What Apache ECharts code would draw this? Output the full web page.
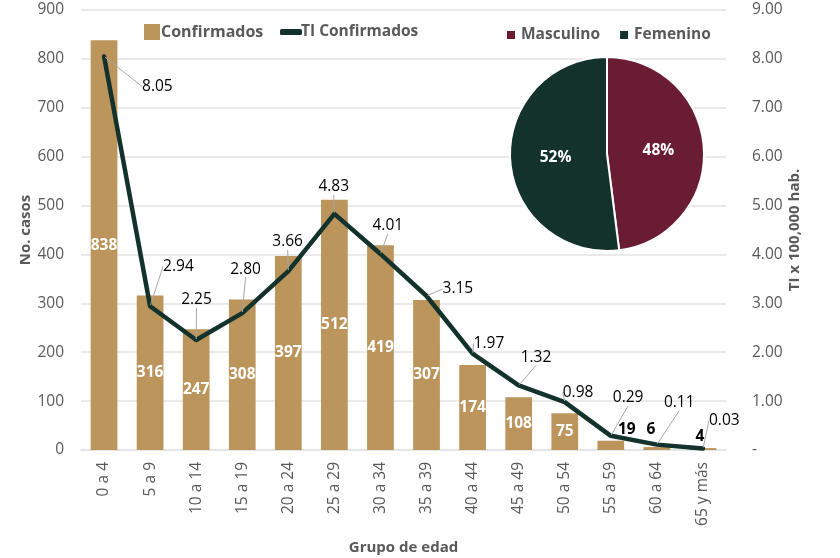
<!DOCTYPE html>
<html>
<head>
<meta charset="utf-8">
<script src="https://cdn.jsdelivr.net/npm/echarts@6/dist/echarts.min.js"></script>
<style>
  html, body { margin: 0; padding: 0; background: #fff; }
  #chart { width: 840px; height: 558px; }
</style>
</head>
<body>
<div id="chart"></div>
<script>
// datos
var grupos = ['0 a 4', '5 a 9', '10 a 14', '15 a 19', '20 a 24', '25 a 29', '30 a 34',
  '35 a 39', '40 a 44', '45 a 49', '50 a 54', '55 a 59', '60 a 64', '65 y más']
var confirmados = [838, 316, 247, 308, 397, 512, 419, 307, 174, 108, 75, 19, 6, 4]
var tiConfirmados = [8.05, 2.94, 2.25, 2.80, 3.66, 4.83, 4.01, 3.15, 1.97, 1.32, 0.98, 0.29, 0.11, 0.03]
var sexoNombres = ['Masculino', 'Femenino']
var sexoValores = [48, 52]

var font = 'Open Sans'
var gris = '#595959'
var oro = '#bc955c'
var verde = '#13322b'
var vino = '#6a1c32'

// desplazamiento de cada etiqueta de la linea respecto al punto (estilo)
var offsetsTI = [[38, 30], [13, -40], [-15, -40], [-12, -44], [-16, -29], [-16, -27], [-8, -28],
  [16, -7], [1, -10], [2, -28], [-2, -10], [2, -38], [7, -42], [6, -28]]

// barras pequeñas: etiqueta negra arriba
var barData = confirmados.map(function (v, i) {
  if (v < 50) {
    var off = i === 11 ? [16, 0] : i === 12 ? [-6, -6] : [-3, 0]
    return {
      value: v,
      label: { position: 'top', color: '#000', offset: off, distance: 3 }
    }
  }
  return v
})

var myChart = echarts.init(document.getElementById('chart'))
myChart.setOption({
  animation: false,
  textStyle: { fontFamily: font },
  grid: { left: 81, right: 114, top: 10, bottom: 108, outerBoundsMode: 'none', containLabel: false },
  legend: [
    {
      data: ['Confirmados'],
      left: 139, top: 19,
      icon: 'rect', itemWidth: 16, itemHeight: 16, itemGap: 4,
      textStyle: { color: gris, fontWeight: 'bold', fontSize: 16, fontFamily: font, padding: [0, 0, 0, -4] }
    },
    {
      data: ['TI Confirmados'],
      left: 275, top: 19,
      icon: 'roundRect', itemWidth: 22, itemHeight: 6,
      textStyle: { color: gris, fontWeight: 'bold', fontSize: 15.5, fontFamily: font, padding: [0, 0, 0, -6] }
    },
    {
      data: sexoNombres,
      left: 500, top: 22,
      icon: 'rect', itemWidth: 10, itemHeight: 10, itemGap: 18,
      textStyle: { color: gris, fontWeight: 'bold', fontSize: 15.5, fontFamily: font }
    }
  ],
  xAxis: {
    type: 'category',
    data: grupos,
    axisTick: { show: false },
    axisLine: { lineStyle: { color: '#e3e3e3', width: 1.5 } },
    axisLabel: { rotate: 90, color: gris, fontSize: 15.5, margin: 12, interval: 0 },
    name: 'Grupo de edad',
    nameLocation: 'middle',
    nameGap: 90,
    nameTextStyle: { color: gris, fontWeight: 'bold', fontSize: 15 }
  },
  yAxis: [
    {
      type: 'value',
      min: 0, max: 900, interval: 100,
      axisLabel: { color: gris, fontSize: 15.5, margin: 17 },
      splitLine: { lineStyle: { color: '#e3e3e3', width: 1.5 } },
      name: 'No. casos',
      nameLocation: 'middle',
      nameGap: 48,
      nameRotate: 90,
      nameMoveOverlap: false,
      nameTextStyle: { color: gris, fontWeight: 'bold', fontSize: 15 }
    },
    {
      type: 'value',
      min: 0, max: 9, interval: 1,
      position: 'right',
      splitLine: { show: false },
      axisLabel: {
        color: gris, fontSize: 15.5, margin: 26,
        formatter: function (v) { return v === 0 ? '-' : v.toFixed(2) }
      },
      name: 'TI x 100,000 hab.',
      nameLocation: 'middle',
      nameGap: 61,
      nameRotate: 90,
      nameMoveOverlap: false,
      nameTextStyle: { color: gris, fontWeight: 'bold', fontSize: 15 }
    }
  ],
  series: [
    {
      name: 'Confirmados',
      type: 'bar',
      data: barData,
      barWidth: '58%',
      itemStyle: { color: oro },
      label: {
        show: true, position: 'inside', color: '#fff',
        fontWeight: 'bold', fontSize: 15.5
      }
    },
    {
      name: 'TI Confirmados',
      type: 'line',
      yAxisIndex: 1,
      data: tiConfirmados,
      symbol: 'circle',
      symbolSize: 2,
      itemStyle: { color: verde },
      lineStyle: { color: verde, width: 4.5, cap: 'round', join: 'round' },
      label: {
        show: true, color: '#000', fontSize: 15.5,
        formatter: function (p) { return p.value.toFixed(2) }
      },
      labelLine: { show: true, lineStyle: { color: '#a6a6a6', width: 1 } },
      labelLayout: function (p) {
        var o = offsetsTI[p.dataIndex]
        return {
          x: p.rect.x + p.rect.width / 2 + o[0],
          y: p.rect.y + p.rect.height / 2 + o[1],
          align: 'left',
          verticalAlign: 'middle'
        }
      },
      z: 5
    },
    {
      name: 'Sexo',
      type: 'pie',
      center: [607, 154],
      radius: 97,
      startAngle: 90,
      clockwise: true,
      data: sexoNombres.map(function (n, i) { return { name: n, value: sexoValores[i] } }),
      itemStyle: {
        color: function (p) { return p.dataIndex === 0 ? vino : verde },
        borderColor: '#fff', borderWidth: 2
      },
      label: {
        show: true, position: 'inside', color: '#fff', fontWeight: 'bold', fontSize: 15.5,
        formatter: function (p) { return Math.round(p.percent) + '%' }
      },
      labelLine: { show: false },
      z: 10
    }
  ]
})
</script>
</body>
</html>
